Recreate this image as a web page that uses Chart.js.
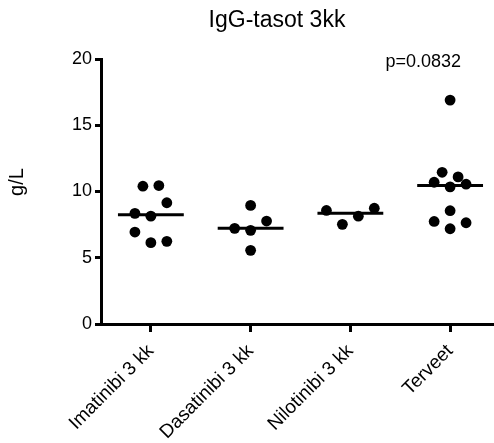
<!DOCTYPE html>
<html>
<head>
<meta charset="utf-8">
<script src="https://cdn.jsdelivr.net/npm/chart.js@4"></script>
<style>
  html, body { margin: 0; padding: 0; background: #fff; }
  #wrap { width: 494px; height: 443px; }
</style>
</head>
<body>
<div id="wrap"><canvas id="igg" width="494" height="443"></canvas></div>
<script>
// categories and values (g/L)
const categories = ['Imatinibi 3 kk', 'Dasatinibi 3 kk', 'Nilotinibi 3 kk', 'Terveet'];

const imatinibi = [10.4, 10.45, 9.15, 8.35, 8.14, 6.94, 6.14, 6.24];
const dasatinibi = [8.95, 7.77, 7.22, 7.07, 5.56];
const nilotinibi = [8.57, 7.52, 8.14, 8.74];
const terveet = [16.9, 11.45, 11.1, 10.7, 10.35, 10.55, 8.55, 7.74, 7.64, 7.19];

// horizontal scatter of the dots around each category (in category units)
const imatinibiSpread = [-0.08, 0.08, 0.16, -0.16, 0, -0.16, 0, 0.16];
const dasatinibiSpread = [0, 0.16, -0.16, 0, 0];
const nilotinibiSpread = [-0.24, -0.08, 0.08, 0.24];
const terveetSpread = [0, -0.08, 0.08, -0.16, 0, 0.16, 0, -0.16, 0.16, 0];

const medians = [8.25, 7.22, 8.35, 10.45];
const yTicks = [0, 5, 10, 15, 20];

const pValue = 'p=0.0832';
const title = 'IgG-tasot 3kk';
const yTitle = 'g/L';

Chart.defaults.font.family = '"Liberation Sans", Arial, sans-serif';
Chart.defaults.color = '#000';

const groups = [
  [imatinibi, imatinibiSpread],
  [dasatinibi, dasatinibiSpread],
  [nilotinibi, nilotinibiSpread],
  [terveet, terveetSpread]
];

const datasets = [];
groups.forEach(([vals, spread], i) => {
  datasets.push({
    type: 'scatter',
    data: vals.map((v, j) => ({ x: i + 1 + spread[j], y: v })),
    backgroundColor: '#000',
    borderColor: '#000',
    pointRadius: 5.4,
    pointHoverRadius: 5.4,
    borderWidth: 0
  });
});
medians.forEach((m, i) => {
  datasets.push({
    type: 'line',
    data: [{ x: i + 1 - 0.33, y: m }, { x: i + 1 + 0.33, y: m }],
    borderColor: '#000',
    borderWidth: 3,
    pointRadius: 0,
    fill: false
  });
});

// title, axis title and p value
const textPlugin = {
  id: 'texts',
  afterDraw(chart) {
    const { ctx, scales } = chart;
    ctx.save();
    ctx.fillStyle = '#000';
    ctx.textAlign = 'center';
    ctx.textBaseline = 'middle';
    ctx.font = '23px "Liberation Sans", Arial, sans-serif';
    ctx.fillText(title, 277, 21);

    ctx.font = '18px "Liberation Sans", Arial, sans-serif';
    ctx.fillText(pValue, scales.x.getPixelForValue(3.73), scales.y.getPixelForValue(20) + 3);

    ctx.translate(17, 182);
    ctx.rotate(-Math.PI / 2);
    ctx.font = '20px "Liberation Sans", Arial, sans-serif';
    ctx.fillText(yTitle, 0, 0);
    ctx.restore();
  }
};

new Chart(document.getElementById('igg'), {
  type: 'scatter',
  data: { datasets },
  plugins: [textPlugin],
  options: {
    responsive: false,
    animation: false,
    devicePixelRatio: 1,
    layout: { autoPadding: false, padding: { top: 59, right: 0, left: 0, bottom: 0 } },
    plugins: { legend: { display: false }, tooltip: { enabled: false } },
    scales: {
      x: {
        type: 'linear',
        min: 0.5,
        max: 4.44,
        afterBuildTicks: (axis) => { axis.ticks = categories.map((c, i) => ({ value: i + 1 })); },
        afterFit: (axis) => { axis.height = 119; axis.paddingRight = 0; axis.paddingLeft = 0; },
        ticks: {
          autoSkip: false,
          minRotation: 45,
          maxRotation: 45,
          padding: 8,
          font: { size: 19 },
          callback: (v) => categories[Math.round(v) - 1]
        },
        grid: { drawOnChartArea: false, drawTicks: true, tickLength: 8, lineWidth: 3, color: '#000' },
        border: { display: true, width: 3, color: '#000' }
      },
      y: {
        min: 0,
        max: 20,
        afterBuildTicks: (axis) => { axis.ticks = yTicks.map(v => ({ value: v })); },
        afterFit: (axis) => { axis.width = 101; },
        ticks: { padding: 3, font: { size: 18 } },
        grid: { drawOnChartArea: false, drawTicks: true, tickLength: 6, lineWidth: 3, color: '#000' },
        border: { display: true, width: 3, color: '#000' }
      }
    }
  }
});
</script>
</body>
</html>
